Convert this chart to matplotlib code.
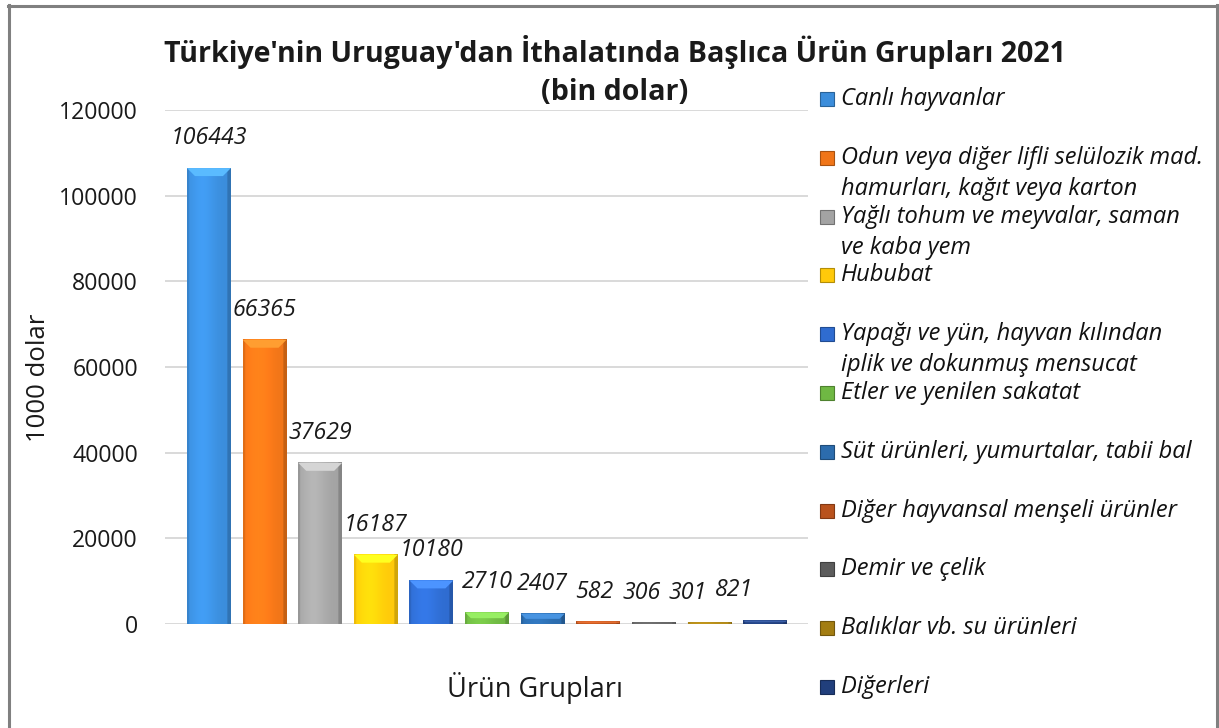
import numpy as np
import matplotlib.pyplot as plt
from matplotlib.lines import Line2D
from matplotlib.patches import Rectangle, Polygon
from matplotlib.colors import to_rgb

plt.rcParams['font.family'] = ['Open Sans', 'DejaVu Sans']

# veriler
urunler = ['Canlı hayvanlar',
           'Odun veya diğer lifli selülozik mad.\nhamurları, kağıt veya karton',
           'Yağlı tohum ve meyvalar, saman\nve kaba yem',
           'Hububat',
           'Yapağı ve yün, hayvan kılından\niplik ve dokunmuş mensucat',
           'Etler ve yenilen sakatat',
           'Süt ürünleri, yumurtalar, tabii bal',
           'Diğer hayvansal menşeli ürünler',
           'Demir ve çelik',
           'Balıklar vb. su ürünleri',
           'Diğerleri']
degerler = [106443, 66365, 37629, 16187, 10180, 2710, 2407, 582, 306, 301, 821]
renkler = ['#3b8ddb', '#f07518', '#a3a3a3', '#ffc90a', '#2f6cd0', '#6fb843',
           '#2c6cad', '#b9521d', '#5c5c5c', '#a37d12', '#213f7c']
yticks = [0, 20000, 40000, 60000, 80000, 100000, 120000]

# etiketlerin yatay kayması (piksel), küçük çubuklarda Excel sola kaydırmış
etiket_kayma = [0, 0, 0, 0, 0, 0, 0, -4, -12, -22, -31]

W, H = 1219, 728
fig = plt.figure(figsize=(W / 100, H / 100), dpi=100)


def fx(px):
    return px / W


def fy(py):
    return 1 - py / H


ax = fig.add_axes([fx(165), fy(624), fx(808) - fx(165), fy(110) - fy(624)])

x = np.arange(len(degerler))
w = 0.79
px_y = 120000 / 514.0   # veri birimi / piksel
px_x = 1 / 55.7

for xi, v, c, kx in zip(x, degerler, renkler, etiket_kayma):
    rgb = np.array(to_rgb(c))
    # yatay gradyan (kenarlar koyu, orta açık)
    t = np.linspace(0, 1, 60)
    f = 1.0 + 0.12 * np.exp(-((t - 0.35) / 0.3) ** 2) - 0.18 * (t > 0.93) - 0.1 * (t < 0.05)
    grad = np.clip(rgb[None, :] * f[:, None], 0, 1)[None, :, :]
    ax.imshow(grad, extent=(xi - w / 2, xi + w / 2, 0, v), aspect='auto',
              zorder=3, interpolation='bilinear')
    # üst eğim
    bh = min(8 * px_y, v * 0.5)
    dx = min(8 * px_x, bh / px_y * px_x)
    top = np.clip(rgb * 1.18 + 0.08, 0, 1)
    ax.add_patch(Polygon([(xi - w / 2, v), (xi + w / 2, v),
                          (xi + w / 2 - dx, v - bh), (xi - w / 2 + dx, v - bh)],
                         closed=True, facecolor=top, edgecolor='none', zorder=4))
    ax.annotate(str(v), (xi, v), xytext=(kx, 30), textcoords='offset pixels',
                ha='center', va='center', fontsize=16.7, style='italic',
                color='#1a1a1a', zorder=5)

ax.set_xlim(-0.79, 10.77)
ax.set_ylim(0, 120000)
ax.set_yticks(yticks)
ax.set_yticklabels([str(t) for t in yticks], fontsize=16.6, color='#1a1a1a')
ax.set_xticks([])
ax.tick_params(axis='y', length=0, pad=19.5)
for s in ax.spines.values():
    s.set_visible(False)
ax.grid(axis='y', color='#d9d9d9', linewidth=1.4, zorder=0)
ax.set_axisbelow(True)
ax.patch.set_alpha(0)

fig.text(fx(38.5), fy(378), '1000 dolar', rotation=90, ha='center', va='center',
         fontsize=18.5, color='#1a1a1a')
fig.text(fx(535), fy(688), 'Ürün Grupları', ha='center', va='center',
         fontsize=19.5, color='#1a1a1a')

fig.text(fx(615), fy(52), "Türkiye'nin Uruguay'dan İthalatında Başlıca Ürün Grupları 2021",
         ha='center', va='center', fontsize=20.6, fontweight='bold', color='#1a1a1a')
fig.text(fx(615), fy(93), '(bin dolar)', ha='center', va='center',
         fontsize=20.6, fontweight='bold', color='#1a1a1a')

# lejant
for i, (lab, c) in enumerate(zip(urunler, renkler)):
    yc = 99 + i * 58.8
    fig.patches.append(Rectangle((fx(820), fy(yc + 7)), fx(14), fy(0) - fy(14),
                                 transform=fig.transFigure, facecolor=c,
                                 edgecolor=np.array(to_rgb(c)) * 0.7, linewidth=0.8))
    for j, satir in enumerate(lab.split('\n')):
        fig.text(fx(841), fy(yc + j * 31), satir, ha='left', va='center',
                 fontsize=17, style='italic', color='#111111')

# çerçeve
kw = dict(color='#808080', linewidth=2.2, transform=fig.transFigure)
fig.add_artist(Line2D([fx(9), fx(9)], [fy(5), 0], **kw))
fig.add_artist(Line2D([fx(8), fx(1217)], [fy(5.5), fy(5.5)], **kw))
fig.add_artist(Line2D([fx(1217), fx(1217)], [fy(5), 0], **kw))

fig.savefig('out.png', dpi=100)
